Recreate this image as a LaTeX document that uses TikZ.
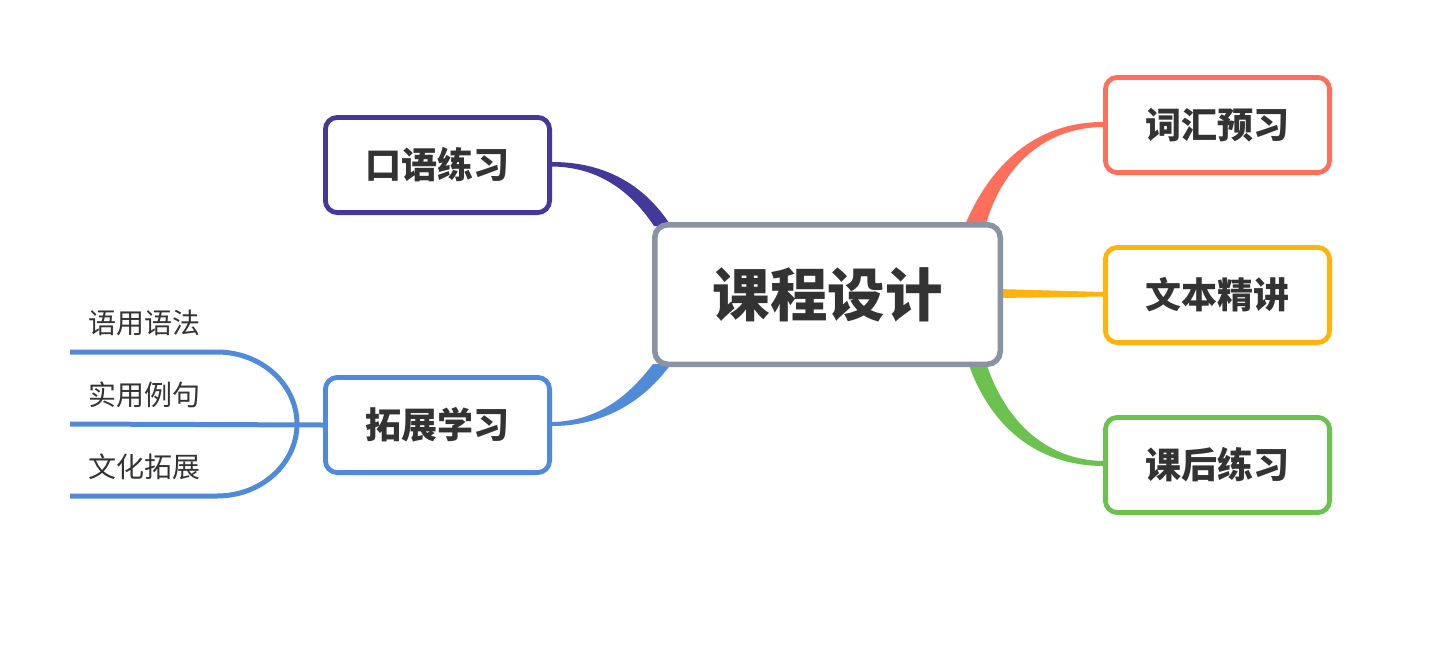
\documentclass[tikz,border=0pt]{standalone}
\usepackage{fontspec}
\setmainfont{Noto Sans CJK SC}
\newfontfamily\cjk{Noto Sans CJK SC}
\usetikzlibrary{calc}
\pgfdeclarelayer{connectors}
\pgfsetlayers{connectors,main}
\definecolor{cpurple}{HTML}{45389B}
\definecolor{ccoral}{HTML}{FF6F5C}
\definecolor{corange}{HTML}{FFB30F}
\definecolor{cgreen}{HTML}{6CC24F}
\definecolor{cblue}{HTML}{4F8BD9}
\definecolor{cgray}{HTML}{8993A4}
\definecolor{ctext}{HTML}{333333}
\begin{document}
\begin{tikzpicture}[x=1pt,y=-1pt,
  topicbox/.style={draw=#1,line width=4.8pt,rounded corners=12pt,fill=white,
    minimum width=224.2pt,minimum height=95.2pt,inner sep=0pt,
    text=ctext,font=\cjk\bfseries\fontsize{36}{40}\selectfont},
  centerbox/.style={draw=cgray,line width=5.5pt,rounded corners=13pt,fill=white,
    minimum width=345.5pt,minimum height=139.5pt,inner sep=0pt,
    text=ctext,font=\cjk\bfseries\fontsize{57.5}{62}\selectfont},
  leaflabel/.style={anchor=west,inner sep=0pt,text=ctext,font=\cjk\fontsize{28}{32}\selectfont},
  leafline/.style={draw=cblue,line width=5pt},
]
\useasboundingbox (0,0) rectangle (1445,654);

% central box
\node[centerbox] (center) at (827.5,294.5) {课程设计};

% topic boxes
\node[topicbox=ccoral] (cihui) at (1217.5,125) {词汇预习};
\node[topicbox=corange] (wenben) at (1217.5,295) {文本精讲};
\node[topicbox=cgreen] (kehou) at (1217.5,465) {课后练习};
\node[topicbox=cpurple] (kouyu) at (437.5,165) {口语练习};
\node[topicbox=cblue] (tuozhan) at (437.5,425) {拓展学习};

% tapered connectors (behind the boxes)
\begin{pgfonlayer}{connectors}
\fill[cpurple] ($(kouyu.east)+(0,-3)$) .. controls +(53,0) and (645,185) .. ($(center.north west)+(19,4)$)
  -- ($(center.north west)+(2,4)$) .. controls (632,193) and (600,167) .. ($(kouyu.east)+(0,1.5)$) -- cycle;
\fill[ccoral] ($(cihui.west)+(0,-3)$) .. controls +(-68,0) and (990,165) .. ($(center.north east)+(-38.5,4)$)
  -- ($(center.north east)+(-17.5,4)$) .. controls (1000,172) and (1040,127.5) .. ($(cihui.west)+(0,2)$) -- cycle;
\fill[corange] ($(center.east)+(-5,-5.5)$) -- ($(wenben.west)+(0,-3)$) -- ($(wenben.west)+(0,1.5)$) -- ($(center.east)+(-5,3.5)$) -- cycle;
\fill[cgreen] ($(center.south east)+(-34.5,-3)$) .. controls (990,425) and (1035,465.5) .. ($(kehou.west)+(0,1)$)
  -- ($(kehou.west)+(0,-4)$) .. controls (1045,460) and (1005,420) .. ($(center.south east)+(-16.5,-3)$) -- cycle;
\fill[cblue] ($(tuozhan.east)+(0,1)$) .. controls +(53,0) and (645,400) .. ($(center.south west)+(19,-3)$)
  -- ($(center.south west)+(1,-3)$) .. controls (630,394) and (600,421) .. ($(tuozhan.east)+(0,-3)$) -- cycle;
\end{pgfonlayer}

% leaves
\node[leaflabel] (leafa) at (88,323) {语用语法};
\node[leaflabel] (leafb) at (88,395) {实用例句};
\node[leaflabel] (leafc) at (88,467) {文化拓展};
\coordinate (la) at (70,352);
\coordinate (lb) at (70,424);
\coordinate (lc) at (70,496);
\coordinate (fork) at (297,424);
\begin{pgfonlayer}{connectors}
\draw[leafline] (la) -- (217,352) .. controls (262,352) and (297,385) .. (fork);
\draw[leafline] (lc) -- (217,496) .. controls (262,496) and (297,463) .. (fork);
\draw[leafline] (lb) -- (tuozhan.west);
\end{pgfonlayer}
\end{tikzpicture}
\end{document}
